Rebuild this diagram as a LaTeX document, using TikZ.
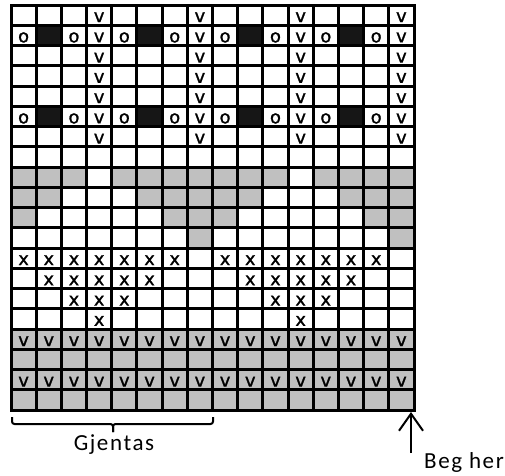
\documentclass[tikz,border=0pt]{standalone}
\usepackage{fontspec}
\setmainfont{Carlito}
\newfontfamily\cellfont[FakeBold=1.2]{DejaVu Sans}
\newfontfamily\labfont[LetterSpace=7]{Carlito}
\usetikzlibrary{arrows.meta}
\definecolor{cellgray}{HTML}{C0C0C0}
\definecolor{celldark}{HTML}{161616}
\tikzset{
 cell/.style={draw=black, line width=3pt, minimum width=25.1875pt, minimum height=20.25pt,
   inner sep=0pt, text height=14pt, text depth=0pt, fill=white,
   font=\cellfont\fontsize{18}{18}\selectfont},
 k0/.style={node contents={}},
 kg/.style={fill=cellgray, node contents={}},
 kb/.style={fill=celldark, node contents={}},
 ko/.style={node contents={o}},
 kv/.style={node contents={v}},
 kx/.style={node contents={x}},
 kG/.style={fill=cellgray, node contents={v}},
 lab/.style={font=\labfont\fontsize{23}{23}\selectfont, inner sep=0pt},
 bracket/.style={line width=2pt, rounded corners=2.5pt},
 pointer/.style={line width=2pt, -{Straight Barb[length=17pt, width=24pt]}}
}
\begin{document}
\begin{tikzpicture}[x=1pt, y=-1pt]
\clip (0,0) rectangle (505,475);
\fill[white] (0,0) rectangle (505,475);
\foreach \row [count=\r from 0] in {
 {0,0,0,v,0,0,0,v,0,0,0,v,0,0,0,v},
 {o,b,o,v,o,b,o,v,o,b,o,v,o,b,o,v},
 {0,0,0,v,0,0,0,v,0,0,0,v,0,0,0,v},
 {0,0,0,v,0,0,0,v,0,0,0,v,0,0,0,v},
 {0,0,0,v,0,0,0,v,0,0,0,v,0,0,0,v},
 {o,b,o,v,o,b,o,v,o,b,o,v,o,b,o,v},
 {0,0,0,v,0,0,0,v,0,0,0,v,0,0,0,v},
 {0,0,0,0,0,0,0,0,0,0,0,0,0,0,0,0},
 {g,g,g,0,g,g,g,g,g,g,g,0,g,g,g,g},
 {g,g,0,0,0,g,g,g,g,g,0,0,0,g,g,g},
 {g,0,0,0,0,0,g,g,g,0,0,0,0,0,g,g},
 {0,0,0,0,0,0,0,g,0,0,0,0,0,0,0,g},
 {x,x,x,x,x,x,x,0,x,x,x,x,x,x,x,0},
 {0,x,x,x,x,x,0,0,0,x,x,x,x,x,0,0},
 {0,0,x,x,x,0,0,0,0,0,x,x,x,0,0,0},
 {0,0,0,x,0,0,0,0,0,0,0,x,0,0,0,0},
 {G,G,G,G,G,G,G,G,G,G,G,G,G,G,G,G},
 {g,g,g,g,g,g,g,g,g,g,g,g,g,g,g,g},
 {G,G,G,G,G,G,G,G,G,G,G,G,G,G,G,G},
 {g,g,g,g,g,g,g,g,g,g,g,g,g,g,g,g}}{
  \foreach \c [count=\k from 0] in \row {
    \node[cell, name=c-\r-\k, at={({23.59375+25.1875*\k},{15.125+20.25*\r})}, k\c];
  }
}
% bracket
\coordinate (brL) at (12,417);
\coordinate (brR) at (213,417);
\coordinate (brM) at (113,424);
\coordinate (brT) at (113,432);
\draw[bracket] (brL) |- (brM) -- (brT);
\draw[bracket] (brR) |- (brM) -- (brT);
\node[lab, anchor=base] (gjentas) at (114,450) {Gjentas};
% start arrow
\coordinate (tail) at (411,453);
\coordinate (tip) at (411,412);
\draw[pointer] (tail) -- (tip);
\node[lab, anchor=base west] (begher) at (424,468) {Beg her};
\end{tikzpicture}
\end{document}
